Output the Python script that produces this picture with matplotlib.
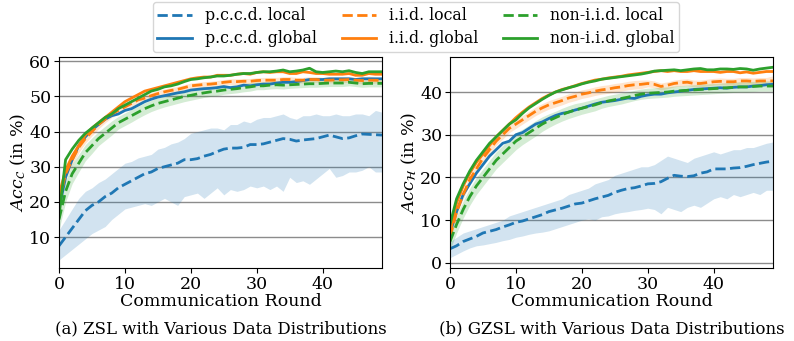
import matplotlib
matplotlib.use("Agg")
import matplotlib.pyplot as plt
import numpy as np

plt.rcParams['font.family'] = ['DejaVu Serif']
plt.rcParams['mathtext.fontset'] = 'dejavuserif'

rounds = list(range(50))

# ---------------- ZSL (panel a) ----------------
zsl_pccd_local = [7.5, 10, 12.5, 15, 17.5, 19, 20, 21.5, 22.5, 24, 25, 26, 27, 28, 28.5, 29.5, 30, 30.5, 31, 32,
                  32, 32.3, 33, 33.5, 34.3, 35, 35.3, 35.3, 35.5, 36.3, 36.3, 36.5, 37, 37.5, 38, 37.8, 37.3, 37.6, 37.8, 38,
                  38.5, 39, 38.5, 38, 38.2, 38.8, 39.3, 39.2, 39.1, 39]
zsl_pccd_local_lo = [3.5, 5, 6.5, 8, 9.5, 11, 12, 13, 15, 16.5, 18, 18.5, 19, 19.5, 19, 20, 21, 20, 19, 21.5,
                     22, 22.5, 21, 22.5, 24, 22, 23.5, 23, 23.5, 24.5, 24, 24.5, 23.5, 24.5, 23, 27, 25.5, 26, 25, 26.5,
                     28, 29.5, 27, 27.5, 28.5, 28.5, 29, 30, 28.5, 28.5]
zsl_pccd_local_hi = [12, 15, 18, 21, 23, 24, 25.5, 26.5, 28, 29.5, 31, 31.5, 32.5, 33, 33.5, 35, 35.5, 36.5, 37, 38,
                     39.5, 40, 40.5, 41, 41, 40.5, 42, 42, 43, 42.5, 43.5, 44, 44, 44.5, 45, 44, 43.5, 44.5, 44.5, 45,
                     44.5, 44.5, 45, 44.5, 44.5, 45, 45, 44.5, 46, 45.5]
zsl_pccd_global = [18, 27, 32, 36, 38.5, 40.5, 42, 43.5, 44.5, 45, 46, 46.5, 47.5, 48.5, 49.2, 49.8, 50.2, 50.6, 51, 51.3,
                   51.8, 52, 52.2, 52.3, 52.5, 52.8, 52.5, 52.7, 53.2, 53, 53.3, 53.5, 53.5, 53.8, 54, 54, 54.2, 54.5, 54.8, 54.8,
                   54.8, 55, 55, 55, 55, 54.8, 55, 55, 55, 55]
zsl_iid_local = [20, 28, 32, 35.5, 38, 40, 42, 43.5, 45, 46, 47, 48, 49, 49.5, 50.2, 50.8, 51.3, 51.7, 52, 52.5,
                 53, 53.2, 53.4, 53.5, 53.7, 54, 54.2, 54.2, 54.3, 54.3, 54.5, 54.6, 54.6, 54.6, 54.8, 54.8, 54.6, 54.6, 54.8, 54.8,
                 54.6, 54.6, 54.7, 54.7, 54.8, 54.6, 54.5, 54.6, 54.6, 54.5]
zsl_iid_global = [22, 29, 33, 36, 39, 41, 42.5, 44, 45.5, 47, 48.5, 49.5, 50.5, 51.5, 52, 52.5, 53, 53.5, 54, 54.5,
                  55, 55.3, 55.5, 55.5, 56, 56, 56, 56.3, 56.5, 56.3, 56.8, 57, 56.8, 57, 57, 56.5, 56.5, 57, 56.8, 56.5,
                  56.5, 56.3, 56.3, 56.3, 56.5, 56, 56, 56.5, 56.3, 56.3]
zsl_non_local = [15, 23, 28, 31, 34, 36, 38, 39.5, 41, 42.5, 43.5, 44.5, 45.5, 46.5, 47.3, 48, 48.5, 49, 49.5, 50,
                 50.3, 50.7, 51, 51.3, 51.5, 51.8, 52, 52.2, 52.5, 52.7, 53, 53, 53.2, 53.3, 53.2, 53.3, 53.4, 53.5, 53.6, 53.6,
                 53.7, 53.8, 53.8, 53.8, 54, 53.8, 53.6, 53.7, 53.7, 53.7]
zsl_non_global = [16, 32, 35, 37.5, 39.5, 41, 42.5, 44, 45, 46.5, 47.5, 48.5, 49.5, 50.5, 51.5, 52, 52.7, 53, 53.5, 54.2,
                  54.8, 55, 55.3, 55.5, 55.8, 55.8, 56, 56.3, 56.5, 56.5, 56.8, 57, 57, 57.2, 57.5, 57, 57.2, 57.5, 58, 57,
                  56.8, 57, 57.2, 57, 57.3, 56.8, 56.5, 57, 57, 57]
zsl_iid_local_sd = [1.5, 1.5, 1.5, 1.5, 1.3, 1.2, 1.2, 1.0, 1.0, 1.0, 1.0, 0.9, 0.9, 0.9, 0.9, 0.9, 0.8, 0.8, 0.8, 0.8,
                    0.8, 0.8, 0.8, 0.8, 0.8, 0.8, 0.8, 0.8, 0.8, 0.8, 0.8, 0.8, 0.8, 0.8, 0.8, 0.8, 0.8, 0.8, 0.8, 0.8,
                    0.8, 0.8, 0.8, 0.8, 0.8, 0.8, 1.0, 1.2, 0.8, 0.8]
zsl_non_local_sd = [3.0, 3.0, 2.8, 2.5, 2.3, 2.2, 2.0, 2.0, 2.0, 1.8, 1.8, 1.8, 1.7, 1.7, 1.6, 1.6, 1.5, 1.5, 1.5, 1.5,
                    1.4, 1.4, 1.3, 1.3, 1.3, 1.2, 1.2, 1.2, 1.2, 1.2, 1.1, 1.1, 1.1, 1.1, 1.1, 1.0, 1.0, 1.0, 1.0, 1.0,
                    1.0, 1.0, 1.0, 1.0, 1.0, 1.0, 1.0, 1.0, 1.0, 1.0]

# ---------------- GZSL (panel b) ----------------
gzsl_pccd_local = [3.3, 4, 5, 5.6, 6.2, 7, 7.4, 7.8, 8.4, 8.9, 9.5, 9.8, 10.3, 10.8, 11.3, 12, 12.4, 12.8, 13.3, 13.8,
                   14, 14.5, 15, 15.4, 15.8, 16.5, 17, 17.4, 17.6, 18, 18.5, 18.6, 19, 19.8, 20.5, 20.3, 20.2, 20.4, 21, 21.3,
                   22, 22, 22, 22.2, 22.3, 22.6, 23, 23.3, 23.6, 23.8]
gzsl_pccd_local_lo = [1.2, 2, 2.8, 3.5, 4, 4.2, 4.5, 4.8, 5.2, 5.5, 6, 6.3, 6.7, 7, 7.2, 7.5, 8, 8.5, 9, 9.5,
                      10, 10.3, 10, 10.8, 11, 11.5, 11.8, 12, 12.3, 12.5, 12.8, 12.5, 11.5, 13, 12.5, 12, 13, 13.5, 13, 14,
                      15, 15.5, 15, 16, 15.5, 16, 16.5, 16, 17, 17]
gzsl_pccd_local_hi = [5, 6, 7, 7.5, 8, 8.5, 9, 9.5, 10, 11, 11.5, 12, 12.5, 13, 13.5, 14, 14.5, 15, 16, 16.5,
                      17, 17.5, 18.5, 19, 19.5, 20.5, 21, 21.5, 22, 22.5, 22.5, 23, 24, 25, 24.5, 24, 23.5, 24.5, 25, 25.5,
                      26, 25.5, 26, 26.5, 26.5, 27, 27, 27.5, 28, 28.3]
gzsl_pccd_global = [7, 12, 16, 18.5, 21, 23, 25, 26.5, 28, 28.5, 30, 30.5, 31.5, 32.5, 33, 33.8, 34.5, 35, 35.3, 35.8,
                    36.2, 36.7, 37.2, 37.6, 37.8, 38, 38.3, 38.6, 38.5, 39, 39.3, 39.5, 39.5, 39.8, 40, 40.2, 40.4, 40.6, 40.7, 40.8,
                    40.9, 41, 40.9, 41.1, 41.2, 41.2, 41.4, 41.5, 41.7, 41.8]
gzsl_iid_local = [6, 12, 16, 19.5, 22, 24.5, 26.5, 28.5, 30, 31.5, 32.5, 33.5, 34.5, 35.5, 36.3, 37, 37.5, 38, 38.6, 39,
                  39.5, 39.8, 40.2, 40.5, 40.7, 41, 41.2, 41.5, 41.7, 41.8, 42, 41.8, 41.3, 41.6, 42, 42.2, 42.3, 42, 42, 42.2,
                  42.4, 42.5, 42.4, 42.4, 42.6, 42.6, 42.5, 42.6, 42.6, 42.6]
gzsl_iid_global = [7, 14, 18, 21, 23.5, 25.5, 27.5, 29.5, 31, 32.5, 34, 35.3, 36.5, 37.5, 38.5, 39.3, 40, 40.6, 41, 41.5,
                   42, 42.4, 42.8, 43, 43.3, 43.5, 43.7, 44, 44.2, 44.4, 44.6, 44.8, 45, 44.8, 45, 44.8, 44.8, 45, 44.8, 44.8,
                   44.8, 44.6, 44.8, 44.8, 44.5, 44.7, 44.4, 44.6, 44.8, 44.8]
gzsl_non_local = [5, 9, 12.5, 15.5, 18, 20, 22, 24, 25.5, 27, 28.5, 29.5, 30.5, 31.5, 32.5, 33.3, 34, 34.7, 35.3, 35.8,
                  36.2, 36.6, 37, 37.5, 37.9, 38.2, 38.5, 38.8, 39.2, 39.5, 39.7, 39.8, 39.9, 40, 40.2, 40.3, 40.4, 40.5, 40.6, 40.7,
                  40.8, 40.9, 41, 41.1, 41.2, 41.2, 41.3, 41.4, 41.4, 41.4]
gzsl_non_global = [9, 15, 18.5, 21.5, 24, 26, 28, 29.5, 31, 32.5, 33.5, 35, 36.3, 37.3, 38.3, 39.2, 40, 40.5, 41, 41.4,
                   41.9, 42.3, 42.6, 43, 43.2, 43.4, 43.6, 43.8, 44, 44.2, 44.5, 44.9, 45, 45.1, 45.2, 45, 45.2, 45.4, 45.5, 45.2,
                   45.2, 45.4, 45.4, 45.3, 45.5, 45.4, 45.1, 45.4, 45.6, 45.8]
gzsl_iid_local_sd = [1.0, 1.0, 1.0, 1.0, 1.0, 1.0, 1.0, 1.0, 1.0, 1.0, 1.0, 1.0, 1.0, 1.0, 1.0, 1.0, 1.0, 1.0, 1.0, 1.0,
                     1.0, 1.0, 1.0, 1.0, 1.0, 1.0, 1.0, 1.0, 1.0, 1.0, 0.8, 0.8, 0.8, 0.8, 0.8, 0.8, 0.8, 0.8, 0.8, 0.8,
                     0.8, 0.8, 0.8, 0.8, 0.8, 0.8, 0.8, 0.8, 0.8, 1.2]
gzsl_non_local_sd = [2.0, 2.0, 2.0, 2.0, 2.0, 2.0, 2.0, 2.0, 2.0, 2.0, 2.0, 1.8, 1.8, 1.8, 1.7, 1.6, 1.5, 1.5, 1.5, 1.5,
                     1.4, 1.4, 1.4, 1.3, 1.3, 1.3, 1.3, 1.2, 1.2, 1.2, 1.2, 1.2, 1.2, 1.2, 1.2, 1.2, 1.2, 1.2, 1.2, 1.2,
                     1.2, 1.2, 1.2, 1.2, 1.2, 1.2, 1.2, 1.2, 1.2, 1.2]

labels = ["p.c.c.d. local", "p.c.c.d. global", "i.i.d. local", "i.i.d. global",
          "non-i.i.d. local", "non-i.i.d. global"]
colors = ["#1f77b4", "#1f77b4", "#ff7f0e", "#ff7f0e", "#2ca02c", "#2ca02c"]
styles = ["--", "-", "--", "-", "--", "-"]

fig = plt.figure(figsize=(7.94, 3.41), dpi=100)
ax1 = fig.add_axes([59/794, 1-268/341, (382-59)/794, (268-57)/341])
ax2 = fig.add_axes([450/794, 1-268/341, (773-450)/794, (268-57)/341])

panels = [
    (ax1, [zsl_pccd_local, zsl_pccd_global, zsl_iid_local, zsl_iid_global, zsl_non_local, zsl_non_global],
     (zsl_pccd_local_lo, zsl_pccd_local_hi), zsl_iid_local_sd, zsl_non_local_sd,
     r"$Acc_{\mathcal{C}}$ (in %)", (1.2, 61.2), [10, 20, 30, 40, 50, 60],
     "(a) ZSL with Various Data Distributions"),
    (ax2, [gzsl_pccd_local, gzsl_pccd_global, gzsl_iid_local, gzsl_iid_global, gzsl_non_local, gzsl_non_global],
     (gzsl_pccd_local_lo, gzsl_pccd_local_hi), gzsl_iid_local_sd, gzsl_non_local_sd,
     r"$Acc_{\mathcal{H}}$ (in %)", (-1.2, 48.2), [0, 10, 20, 30, 40],
     "(b) GZSL with Various Data Distributions"),
]

handles = []
for ax, series, pband, iid_sd, non_sd, ylab, ylim, yticks, cap in panels:
    x = np.array(rounds)
    ax.fill_between(x, pband[0], pband[1], color=colors[0], alpha=0.2, linewidth=0)
    ax.fill_between(x, np.array(series[2]) - np.array(iid_sd), np.array(series[2]) + np.array(iid_sd),
                    color=colors[2], alpha=0.2, linewidth=0)
    ax.fill_between(x, np.array(series[4]) - np.array(non_sd), np.array(series[4]) + np.array(non_sd),
                    color=colors[4], alpha=0.2, linewidth=0)
    hs = []
    for s, lab, c, ls in zip(series, labels, colors, styles):
        h, = ax.plot(x, s, ls, color=c, lw=2, label=lab)
        hs.append(h)
    handles = hs
    ax.set_xlim(0, 49)
    ax.set_ylim(*ylim)
    ax.set_yticks(yticks)
    ax.set_xticks([0, 10, 20, 30, 40])
    ax.yaxis.grid(True, color="#8c8c8c", linewidth=1)
    ax.set_axisbelow(True)
    ax.tick_params(labelsize=12.5, pad=2)
    ax.set_xlabel("Communication Round", fontsize=12.5, labelpad=0)
    ax.set_ylabel(ylab, fontsize=12.5, labelpad=1)
    pos = ax.get_position()
    fig.text((pos.x0 + pos.x1) / 2, 1 - 329/341, cap, ha="center", va="center", fontsize=12)

fig.legend(handles=handles, labels=labels, loc="upper center", ncol=3,
           bbox_to_anchor=(416/794, 1.0), fontsize=11.3, handlelength=2.2,
           columnspacing=1.6, borderpad=0.3, labelspacing=0.4, borderaxespad=0.15,
           framealpha=0.8)

fig.savefig("out.png", dpi=100)
